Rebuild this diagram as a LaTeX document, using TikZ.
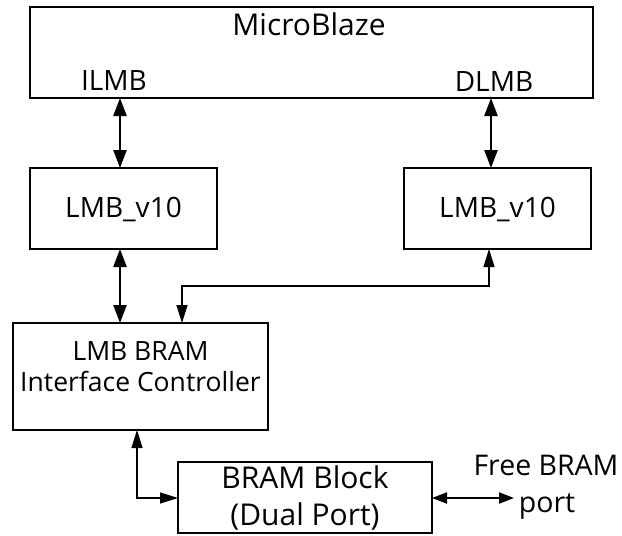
\documentclass[tikz,border=0pt]{standalone}
\usepackage{fontspec}
\setmainfont{Open Sans}
\usetikzlibrary{arrows.meta}
\begin{document}
\begin{tikzpicture}[x=1pt,y=-1pt,
  blk/.style={draw,line width=2.5pt},
  txt/.style={inner sep=0pt,anchor=base},
  tip/.style={Triangle[length=18pt,width=12pt]},
  smalltip/.style={Triangle[length=15pt,width=10pt]},
  fat/.style={line width=2.4pt,{Triangle[length=18pt,width=13pt]}-{Triangle[length=18pt,width=13pt]}},
  slim/.style={line width=1.2pt,{Triangle[length=18pt,width=11pt]}-{Triangle[length=18pt,width=11pt]}}
]
\useasboundingbox (0,0) rectangle (622,536);
% boxes
\draw[blk] (30,7) rectangle (593,98);
\coordinate (mbsw) at (30,98);
\draw[blk] (30,168) rectangle (217,249);
\draw[blk] (404,168) rectangle (591,249);
\draw[blk] (13,323) rectangle (268,430);
\draw[blk] (178,462) rectangle (432,533);
% texts
\node[txt,font=\fontsize{30}{36}\selectfont] (mbt) at (309,35) {MicroBlaze};
\node[txt,font=\fontsize{28}{34}\selectfont] (ilmb) at (114,90) {ILMB};
\node[txt,font=\fontsize{28}{34}\selectfont] (dlmb) at (494,91) {DLMB};
\node[txt,font=\fontsize{28}{34}\selectfont] (l1t) at (123.5,217) {LMB\_v10};
\node[txt,font=\fontsize{28}{34}\selectfont] (l2t) at (497.5,217) {LMB\_v10};
\node[txt,font=\fontsize{26.5}{32}\selectfont] (ct1) at (140.5,360) {LMB BRAM};
\node[txt,font=\fontsize{26.5}{32}\selectfont] (ct2) at (140.5,391) {Interface Controller};
\node[txt,font=\fontsize{30}{36}\selectfont] (bt1) at (305,488) {BRAM Block};
\node[txt,font=\fontsize{30}{36}\selectfont] (bt2) at (305,525) {(Dual Port)};
\node[txt,font=\fontsize{28.5}{34}\selectfont] (fr1) at (546,475) {Free BRAM};
\node[txt,font=\fontsize{28.5}{34}\selectfont] (fr2) at (547,512) {port};
% connector end points on box edges
\coordinate (mbA) at (120,98);   \coordinate (l1A) at (120,168);
\coordinate (mbB) at (491,98);   \coordinate (l2A) at (491,168);
\coordinate (l1B) at (120,249);  \coordinate (ctA) at (120,323);
\coordinate (l2B) at (489,249);  \coordinate (ctB) at (182,323);
\coordinate (ctC) at (137,430);  \coordinate (brA) at (178,498);
\coordinate (brB) at (432,498);  \coordinate (fe)  at (514,498);
% connectors
\draw[fat] (mbA) -- (l1A);
\draw[fat] (mbB) -- (l2A);
\draw[fat] (l1B) -- (ctA);
\draw[slim] (l2B) |- (182,286) -- (ctB);
\draw[slim] (ctC) |- (brA);
\draw[line width=1.8pt,{Triangle[length=15pt,width=11pt]}-{Triangle[length=15pt,width=11pt]}] (brB) -- (fe);
\end{tikzpicture}
\end{document}
